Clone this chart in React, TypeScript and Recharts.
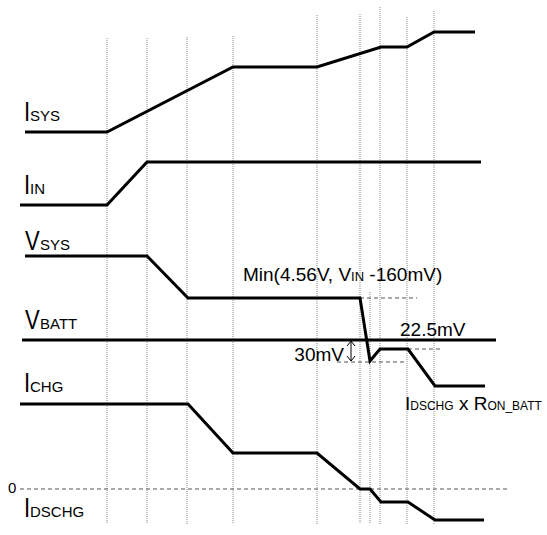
import { Line, LineChart, ReferenceLine, XAxis, YAxis } from "recharts";

// time points (horizontal) and levels (vertical, top = 0) for each trace
const isysT = [25, 107, 233, 317, 381, 407, 434, 475];
const isysV = [132, 132, 67, 67, 47, 47, 32, 32];

const iinT = [20, 107, 147, 481];
const iinV = [205, 205, 162, 162];

const vsysT = [25, 147, 188, 360, 370, 380, 408, 435, 485];
const vsysV = [256, 256, 298, 298, 361, 349, 349, 386, 386];

const vbattT = [22, 496];
const vbattV = [340, 340];

const ichgT = [20, 188, 233, 317, 360, 370, 381, 408, 435, 484];
const ichgV = [404, 404, 453, 453, 489, 489, 502, 502, 520, 520];

// event markers: time, top of the dotted line
const markerT = [107, 147, 187, 233, 317, 360, 370, 380, 407, 434];
const markerTop = [38, 38, 37, 36, 15, 14, 292, 7, 17, 11];
const markerBottom = 524;

// dashed guides: [x1, x2, level]
const guides = [
  [360, 417, 298],
  [408, 440, 349],
  [337, 405, 362],
  [20, 509, 489],
];

const toData = (t: number[], v: number[]) => t.map((x, i) => ({ t: x, v: v[i] }));

const traces = [
  toData(isysT, isysV),
  toData(iinT, iinV),
  toData(vsysT, vsysV),
  toData(vbattT, vbattV),
  toData(ichgT, ichgV),
];

const W = 547;
const H = 535;
const FONT = "'Liberation Sans', Arial, sans-serif";

function Lbl({ x, y, main, sub }: { x: number; y: number; main: string; sub: string }) {
  const mw = main === "V" ? 15 : 6;
  return (
    <g>
      <text transform={`translate(${x},${y}) scale(1,1.25)`} fontFamily={FONT} fontSize={22} fill="#000">
        {main}
      </text>
      <text x={x + mw} y={y} fontFamily={FONT} fontSize={15} fill="#000">
        {sub}
      </text>
    </g>
  );
}

export default function App() {
  return (
    <div style={{ position: "absolute", left: 0, top: 0, width: W, height: H, background: "#fff" }}>
      <LineChart width={W} height={H} margin={{ top: 0, right: 0, bottom: 0, left: 0 }}>
        <XAxis type="number" dataKey="t" domain={[0, W]} hide allowDataOverflow />
        <YAxis type="number" domain={[0, H]} reversed hide allowDataOverflow />
        {markerT.map((x, i) => (
          <ReferenceLine
            key={`m${i}`}
            segment={[
              { x, y: markerTop[i] },
              { x, y: markerBottom },
            ]}
            stroke="#888"
            strokeWidth={1}
            strokeDasharray="1 1"
          />
        ))}
        {guides.map(([x1, x2, y], i) => (
          <ReferenceLine
            key={`g${i}`}
            segment={[
              { x: x1, y },
              { x: x2, y },
            ]}
            stroke="#555"
            strokeWidth={1}
            strokeDasharray="4 3"
          />
        ))}
        {/* 30mV double arrow */}
        <ReferenceLine segment={[{ x: 351, y: 341 }, { x: 351, y: 361 }]} stroke="#000" strokeWidth={1} />
        <ReferenceLine segment={[{ x: 351, y: 341 }, { x: 347, y: 346 }]} stroke="#000" strokeWidth={1} />
        <ReferenceLine segment={[{ x: 351, y: 341 }, { x: 355, y: 346 }]} stroke="#000" strokeWidth={1} />
        <ReferenceLine segment={[{ x: 351, y: 361 }, { x: 347, y: 356 }]} stroke="#000" strokeWidth={1} />
        <ReferenceLine segment={[{ x: 351, y: 361 }, { x: 355, y: 356 }]} stroke="#000" strokeWidth={1} />
        {traces.map((d, i) => (
          <Line
            key={`s${i}`}
            data={d}
            dataKey="v"
            type="linear"
            stroke="#000"
            strokeWidth={3}
            dot={false}
            activeDot={false}
            isAnimationActive={false}
          />
        ))}
      </LineChart>
      <svg width={W} height={H} style={{ position: "absolute", left: 0, top: 0, pointerEvents: "none" }}>
        <Lbl x={24} y={121} main="I" sub="SYS" />
        <Lbl x={24} y={194} main="I" sub="IN" />
        <Lbl x={25} y={250} main="V" sub="SYS" />
        <Lbl x={25} y={329} main="V" sub="BATT" />
        <Lbl x={24} y={392} main="I" sub="CHG" />
        <Lbl x={24} y={517} main="I" sub="DSCHG" />
        <text x={8} y={493} fontFamily={FONT} fontSize={15}>0</text>
        <text x={243} y={281} fontFamily={FONT} fontSize={19}>
          Min(4.56V, V<tspan fontSize={13}>IN</tspan> -160mV)
        </text>
        <text x={400} y={336} fontFamily={FONT} fontSize={19}>22.5mV</text>
        <text x={344} y={361} fontFamily={FONT} fontSize={19} textAnchor="end">30mV</text>
        <text x={405} y={410} fontFamily={FONT} fontSize={19}>
          I<tspan fontSize={12}>DSCHG</tspan> x R<tspan fontSize={12}>ON_BATT</tspan>
        </text>
      </svg>
    </div>
  );
}
